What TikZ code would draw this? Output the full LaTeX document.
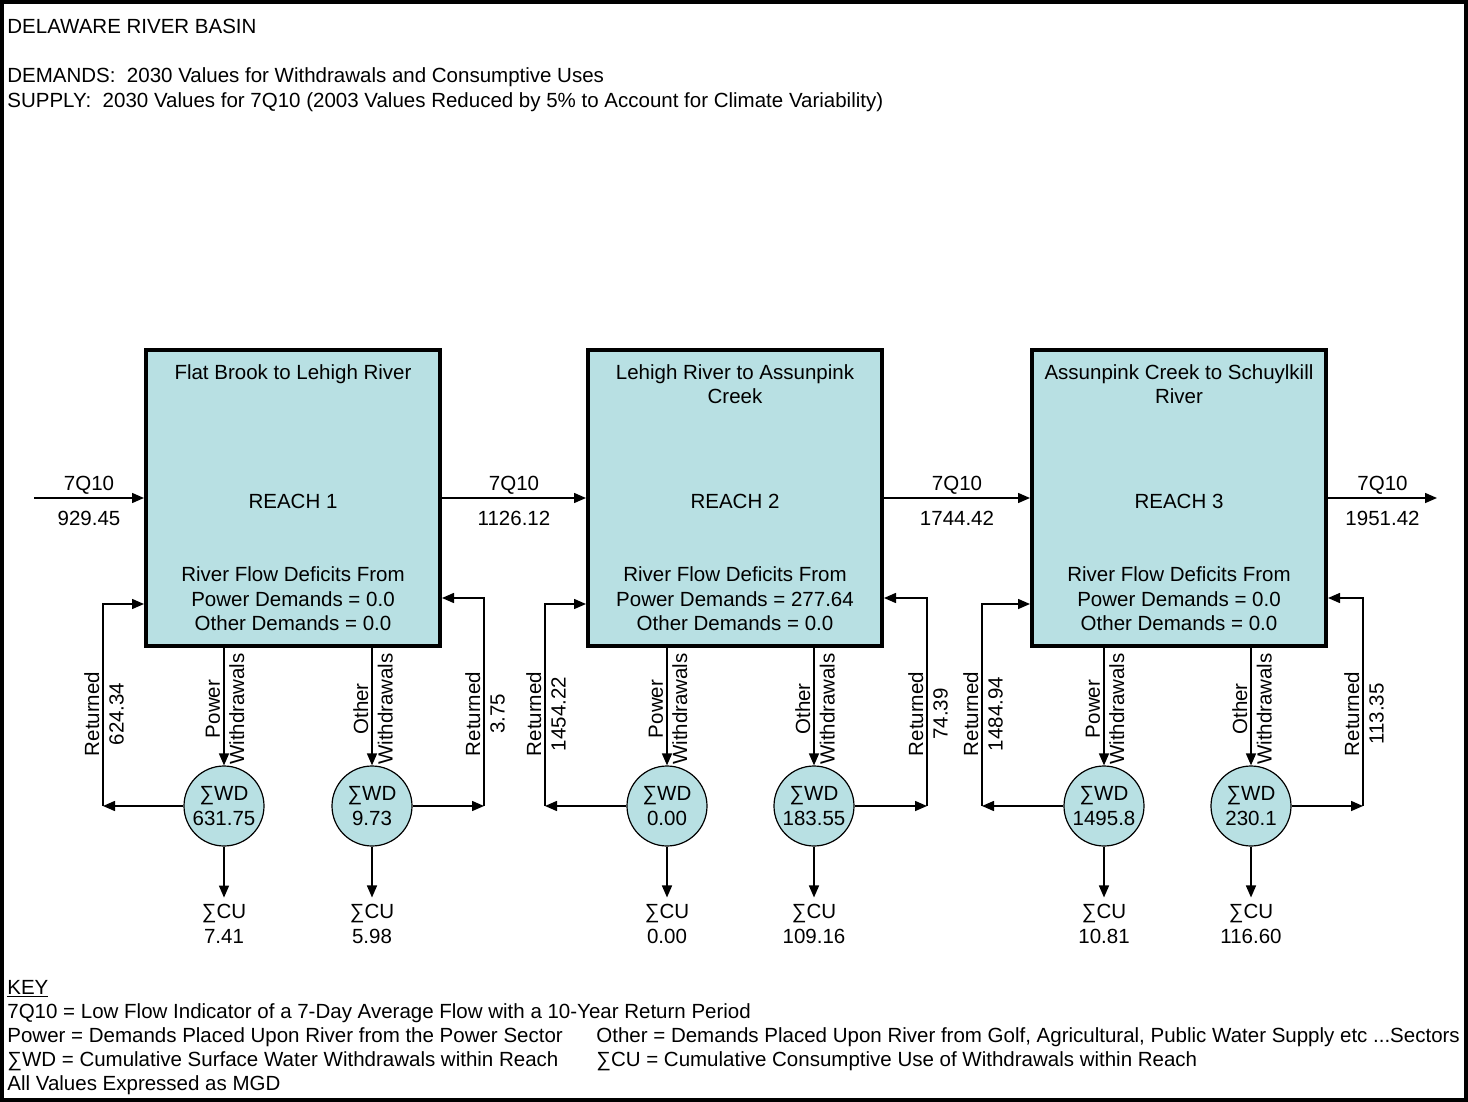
\documentclass[tikz,border=0pt]{standalone}
\usepackage{fontspec}
\setmainfont{Liberation Sans}
\usepackage{xcolor}
\usepackage{tikz}
\usetikzlibrary{arrows.meta}
\definecolor{reachfill}{RGB}{184,224,227}

\begin{document}
\begin{tikzpicture}[x=0.5pt, y=-0.5pt, every text node part/.style={align=center}, font=\fontsize{10.25}{12.2}\selectfont]
			\tikzstyle{reach} = [draw, rectangle, fill=reachfill, line width=2pt, minimum width=147pt, minimum height=148pt]
			\tikzstyle{sumwd} = [draw, circle, fill=reachfill, line width=0.6pt, minimum size=40pt, inner sep=0pt]
			\tikzstyle{flow} = [line width=0.75pt, -{Triangle[length=6pt, width=5pt]}]
			\tikzstyle{turned} = [rotate=90]
			\tikzstyle{head} = [anchor=base west, inner sep=0pt]
			\tikzstyle{rtitle} = [anchor=north, inner sep=0pt]
			\tikzstyle{deficit} = [inner sep=0pt, font=\fontsize{10.25}{12.25}\selectfont]
			\tikzstyle{qup} = [above, yshift=-2pt]
			\tikzstyle{qdown} = [below=3pt]

			\useasboundingbox (0,0) rectangle (1468,1102);
			\path[draw, line width=2pt] (2,2) rectangle (1466,1100);

			\path (7,34) node[head] (title) {DELAWARE RIVER BASIN};
			\path (7,83) node[head] (demands) {DEMANDS:\ \ 2030 Values for Withdrawals and Consumptive Uses};
			\path (7,108) node[head] (supply) {SUPPLY:\ \ 2030 Values for 7Q10 (2003 Values Reduced by 5\% to Account for Climate Variability)};

			\path (293,498) node[reach] (r1) {};
			\path (735,498) node[reach] (r2) {};
			\path (1179,498) node[reach] (r3) {};
			\path (293,364) node[rtitle] (n1) {Flat Brook to Lehigh River};
			\path (735,364) node[rtitle] (n2) {Lehigh River to Assunpink\\Creek};
			\path (1179,364) node[rtitle] (n3) {Assunpink Creek to Schuylkill\\River};
			\path (293,501) node (h1) {REACH 1};
			\path (735,501) node (h2) {REACH 2};
			\path (1179,501) node (h3) {REACH 3};
			\path (293,599) node[deficit] (d1) {River Flow Deficits From\\Power Demands = 0.0\\Other Demands = 0.0};
			\path (735,599) node[deficit] (d2) {River Flow Deficits From\\Power Demands = 277.64\\Other Demands = 0.0};
			\path (1179,599) node[deficit] (d3) {River Flow Deficits From\\Power Demands = 0.0\\Other Demands = 0.0};

			\coordinate (src) at (34,498);
			\coordinate (snk) at (1437,498);
			\path[draw, flow] (src) -- node[qup] (q0) {7Q10} node[qdown] (v0) {929.45} (r1);
			\path[draw, flow] (r1) -- node[qup] (q1) {7Q10} node[qdown] (v1) {1126.12} (r2);
			\path[draw, flow] (r2) -- node[qup] (q2) {7Q10} node[qdown] (v2) {1744.42} (r3);
			\path[draw, flow] (r3) -- node[qup] (q3) {7Q10} node[qdown] (v3) {1951.42} (snk);

			\path (224,806) node[sumwd] (w1p) {∑WD\\631.75};
			\path (372,806) node[sumwd] (w1o) {∑WD\\9.73};
			\path (224,924) node (u1p) {∑CU\\7.41};
			\path (372,924) node (u1o) {∑CU\\5.98};
			\path (225,709) node[turned] (l1p) {Power\\Withdrawals};
			\path (373,709) node[turned] (l1o) {Other\\Withdrawals};
			\path (104,714) node[turned] (t1l) {Returned\\624.34};
			\path (485,714) node[turned] (t1r) {Returned\\3.75};
			\coordinate (b1l) at (103,806);
			\coordinate (b1r) at (484,806);

			\path (667,806) node[sumwd] (w2p) {∑WD\\0.00};
			\path (814,806) node[sumwd] (w2o) {∑WD\\183.55};
			\path (667,924) node (u2p) {∑CU\\0.00};
			\path (814,924) node (u2o) {∑CU\\109.16};
			\path (668,709) node[turned] (l2p) {Power\\Withdrawals};
			\path (815,709) node[turned] (l2o) {Other\\Withdrawals};
			\path (546,714) node[turned] (t2l) {Returned\\1454.22};
			\path (928,714) node[turned] (t2r) {Returned\\74.39};
			\coordinate (b2l) at (545,806);
			\coordinate (b2r) at (927,806);

			\path (1104,806) node[sumwd] (w3p) {∑WD\\1495.8};
			\path (1251,806) node[sumwd] (w3o) {∑WD\\230.1};
			\path (1104,924) node (u3p) {∑CU\\10.81};
			\path (1251,924) node (u3o) {∑CU\\116.60};
			\path (1105,709) node[turned] (l3p) {Power\\Withdrawals};
			\path (1252,709) node[turned] (l3o) {Other\\Withdrawals};
			\path (983,714) node[turned] (t3l) {Returned\\1484.94};
			\path (1364,714) node[turned] (t3r) {Returned\\113.35};
			\coordinate (b3l) at (982,806);
			\coordinate (b3r) at (1363,806);

			\path[draw, flow] (r1.south -| w1p) -- (w1p);
			\path[draw, flow] (r1.south -| w1o) -- (w1o);
			\path[draw, flow] (w1p) -- (u1p);
			\path[draw, flow] (w1o) -- (u1o);
			\path[draw, flow] (w1p) -- (b1l);
			\path[draw, flow] (w1o) -- (b1r);
			\path[draw, flow] (b1l) |- ([yshift=22pt]r1.south west);
			\path[draw, flow] (b1r) |- ([yshift=25pt]r1.south east);

			\path[draw, flow] (r2.south -| w2p) -- (w2p);
			\path[draw, flow] (r2.south -| w2o) -- (w2o);
			\path[draw, flow] (w2p) -- (u2p);
			\path[draw, flow] (w2o) -- (u2o);
			\path[draw, flow] (w2p) -- (b2l);
			\path[draw, flow] (w2o) -- (b2r);
			\path[draw, flow] (b2l) |- ([yshift=22pt]r2.south west);
			\path[draw, flow] (b2r) |- ([yshift=25pt]r2.south east);

			\path[draw, flow] (r3.south -| w3p) -- (w3p);
			\path[draw, flow] (r3.south -| w3o) -- (w3o);
			\path[draw, flow] (w3p) -- (u3p);
			\path[draw, flow] (w3o) -- (u3o);
			\path[draw, flow] (w3p) -- (b3l);
			\path[draw, flow] (w3o) -- (b3r);
			\path[draw, flow] (b3l) |- ([yshift=22pt]r3.south west);
			\path[draw, flow] (b3r) |- ([yshift=25pt]r3.south east);

			\path (7,994) node[head] (key) {\underline{KEY}};
			\path (7,1018) node[head] (k1) {7Q10 = Low Flow Indicator of a 7-Day Average Flow with a 10-Year Return Period};
			\path (7,1042) node[head] (k2) {Power = Demands Placed Upon River from the Power Sector};
			\path (596,1042) node[head] (k3) {Other = Demands Placed Upon River from Golf, Agricultural, Public Water Supply etc ...Sectors};
			\path (7,1066) node[head] (k4) {∑WD = Cumulative Surface Water Withdrawals within Reach};
			\path (596,1066) node[head] (k5) {∑CU = Cumulative Consumptive Use of Withdrawals within Reach};
			\path (7,1090) node[head] (k6) {All Values Expressed as MGD};
		\end{tikzpicture}
\end{document}
